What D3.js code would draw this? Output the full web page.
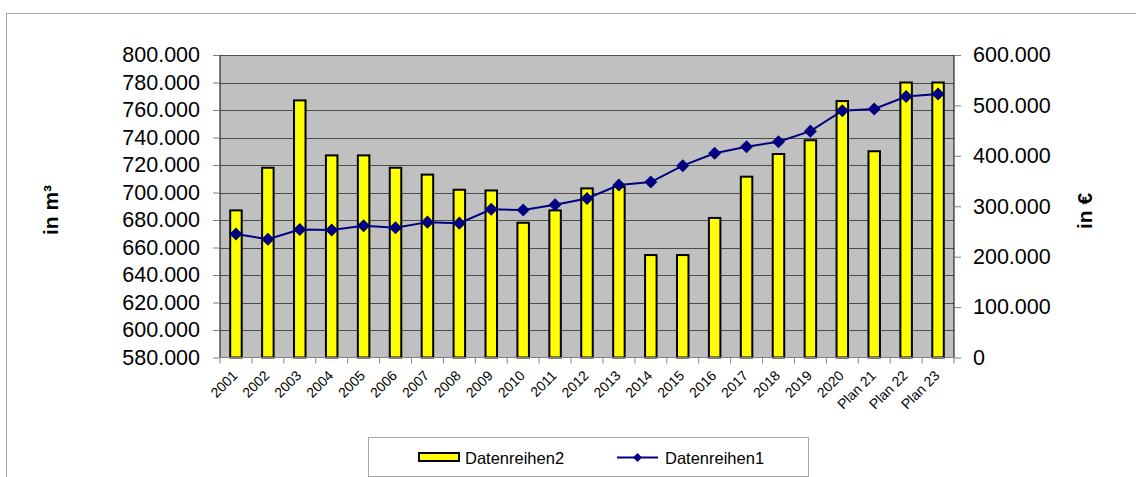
<!DOCTYPE html>
<html>
<head>
<meta charset="utf-8">
<script src="https://cdn.jsdelivr.net/npm/d3@7"></script>
<style>
  body { margin: 0; background: #fff; }
  text { font-family: "Liberation Sans", Arial, sans-serif; }
</style>
</head>
<body>
<svg width="1136" height="477"></svg>
<script>
// Data
const categories = ['2001', '2002', '2003', '2004', '2005', '2006', '2007', '2008', '2009', '2010',
  '2011', '2012', '2013', '2014', '2015', '2016', '2017', '2018', '2019', '2020',
  'Plan 21', 'Plan 22', 'Plan 23'];
// Datenreihen2 - bars, left axis (m³)
const volume = [687000, 718000, 767000, 727000, 727000, 718000, 713000, 702000, 701500, 678000,
  687000, 703000, 704000, 654500, 654500, 681500, 711500, 728000, 738000, 766500,
  730000, 780000, 780000];
// Datenreihen1 - line, right axis (€)
const cost = [245000, 234500, 254000, 253000, 261500, 257500, 268500, 266500, 294000, 292500,
  303000, 315500, 342000, 348000, 380500, 405000, 418000, 428000, 449000, 489500,
  493000, 517500, 522500];
const leftTicks = [580000, 600000, 620000, 640000, 660000, 680000, 700000, 720000, 740000, 760000, 780000, 800000];
const rightTicks = [0, 100000, 200000, 300000, 400000, 500000, 600000];

const de = d3.formatLocale({decimal: ',', thousands: '.', grouping: [3], currency: ['', '€']});
const fmt = de.format(',');

const svg = d3.select('svg');

// outer chart border
svg.append('rect')
    .attr('x', 6.5).attr('y', 13.5)
    .attr('width', 1200).attr('height', 600)
    .attr('fill', 'none')
    .attr('stroke', '#a6a6a6');

const pLeft = 220, pRight = 954, pTop = 55, pBottom = 357.5;

const x = d3.scaleBand().domain(categories).range([pLeft, pRight]).padding(0);
const y1 = d3.scaleLinear().domain([580000, 800000]).range([pBottom, pTop]);
const y2 = d3.scaleLinear().domain([0, 600000]).range([pBottom, pTop]);

// plot area
svg.append('rect')
    .attr('x', pLeft).attr('y', pTop)
    .attr('width', pRight - pLeft).attr('height', pBottom - pTop)
    .attr('fill', '#c0c0c0');

// gridlines
svg.append('g')
    .selectAll('line')
    .data(leftTicks.slice(1))
    .join('line')
    .attr('x1', pLeft).attr('x2', pRight)
    .attr('y1', d => Math.round(y1(d)) + 0.5)
    .attr('y2', d => Math.round(y1(d)) + 0.5)
    .attr('stroke', '#4d4d4d')
    .attr('stroke-width', 1);

// bars
const bw = x.bandwidth() * 0.36;
svg.append('g')
    .selectAll('rect')
    .data(volume)
    .join('rect')
    .attr('x', (d, i) => x(categories[i]) + x.bandwidth() / 2 - bw / 2)
    .attr('y', d => y1(d))
    .attr('width', bw)
    .attr('height', d => y1(580000) - y1(d))
    .attr('fill', '#ffff00')
    .attr('stroke', '#000')
    .attr('stroke-width', 2);

// line
const line = d3.line()
    .x((d, i) => x(categories[i]) + x.bandwidth() / 2)
    .y(d => y2(d));

svg.append('path')
    .datum(cost)
    .attr('d', line)
    .attr('fill', 'none')
    .attr('stroke', '#000080')
    .attr('stroke-width', 2);

const diamond = d3.symbol().type(d3.symbolSquare).size(85);
svg.append('g')
    .selectAll('path')
    .data(cost)
    .join('path')
    .attr('d', diamond)
    .attr('transform', (d, i) => `translate(${x(categories[i]) + x.bandwidth() / 2},${y2(d)}) rotate(45)`)
    .attr('fill', '#000080');

// left axis
const axL = svg.append('g')
    .attr('transform', `translate(${pLeft},0)`)
    .call(d3.axisLeft(y1).tickValues(leftTicks).tickFormat(fmt).tickSize(7).tickPadding(13));
axL.select('.domain').attr('stroke', '#000').attr('d', `M0,${pTop}V${pBottom}`);
axL.selectAll('.tick line').attr('stroke', '#808080');
axL.selectAll('.tick text')
    .attr('font-size', '21.5px')
    .attr('fill', '#000');

// right axis
const axR = svg.append('g')
    .attr('transform', `translate(${pRight},0)`)
    .call(d3.axisRight(y2).tickValues(rightTicks).tickFormat(fmt).tickSize(7).tickPadding(12));
axR.select('.domain').attr('stroke', '#000').attr('d', `M0,${pTop}V${pBottom}`);
axR.selectAll('.tick line').attr('stroke', '#808080');
axR.selectAll('.tick text')
    .attr('font-size', '21.5px')
    .attr('fill', '#000');

// bottom axis
const axB = svg.append('g')
    .attr('transform', `translate(0,${pBottom})`);
axB.append('line')
    .attr('x1', pLeft).attr('x2', pRight)
    .attr('stroke', '#808080');
axB.selectAll('line.tk')
    .data(categories.concat(['end']))
    .join('line')
    .attr('class', 'tk')
    .attr('x1', (d, i) => pLeft + i * x.bandwidth())
    .attr('x2', (d, i) => pLeft + i * x.bandwidth())
    .attr('y1', 0).attr('y2', 6)
    .attr('stroke', '#808080');
axB.selectAll('text.lbl')
    .data(categories)
    .join('text')
    .attr('class', 'lbl')
    .attr('text-anchor', 'end')
    .attr('font-size', '14px')
    .attr('transform', d => `translate(${x(d) + x.bandwidth() / 2 + 2.5},19) rotate(-45)`)
    .text(d => d);

// axis titles
svg.append('text')
    .attr('transform', 'translate(57.5,210) rotate(-90)')
    .attr('text-anchor', 'middle')
    .attr('font-size', '21px')
    .attr('font-weight', 'bold')
    .text('in m³');

svg.append('text')
    .attr('transform', 'translate(1092,211) rotate(-90)')
    .attr('text-anchor', 'middle')
    .attr('font-size', '21px')
    .attr('font-weight', 'bold')
    .text('in €');

// legend
const lg = svg.append('g');
lg.append('rect')
    .attr('x', 368.5).attr('y', 437.5)
    .attr('width', 440).attr('height', 39)
    .attr('fill', '#fff')
    .attr('stroke', '#a6a6a6');
lg.append('rect')
    .attr('x', 419).attr('y', 453)
    .attr('width', 40).attr('height', 8)
    .attr('fill', '#ffff00')
    .attr('stroke', '#000')
    .attr('stroke-width', 2);
lg.append('text')
    .attr('x', 465).attr('y', 463.5)
    .attr('font-size', '16.5px')
    .text('Datenreihen2');
lg.append('line')
    .attr('x1', 617).attr('x2', 658)
    .attr('y1', 457.5).attr('y2', 457.5)
    .attr('stroke', '#000080')
    .attr('stroke-width', 2);
lg.append('path')
    .attr('d', d3.symbol().type(d3.symbolSquare).size(40))
    .attr('transform', 'translate(637.5,457.5) rotate(45)')
    .attr('fill', '#000080');
lg.append('text')
    .attr('x', 665).attr('y', 463.5)
    .attr('font-size', '16.5px')
    .text('Datenreihen1');
</script>
</body>
</html>
